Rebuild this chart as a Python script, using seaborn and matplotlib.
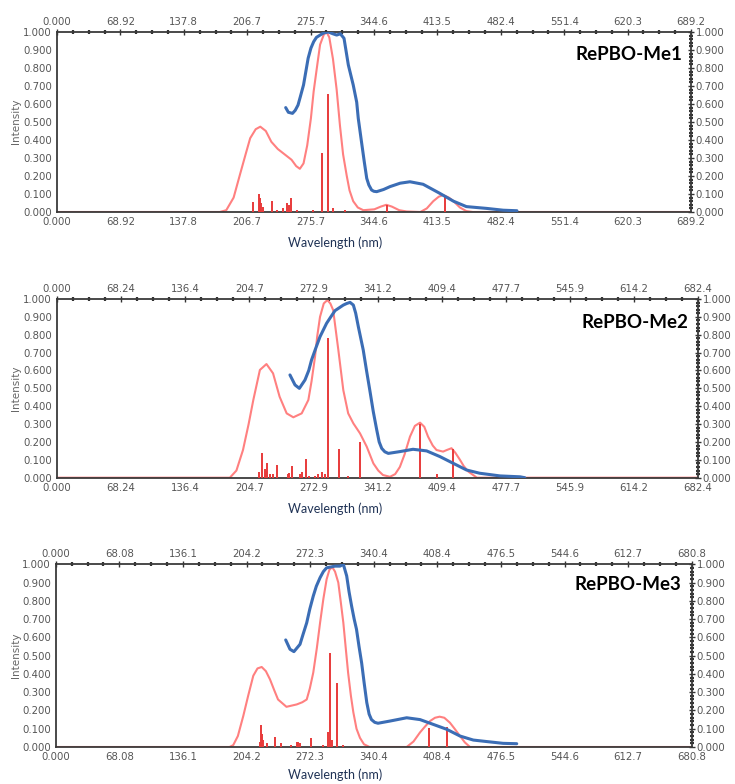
import numpy as np
import pandas as pd
import matplotlib
matplotlib.use("Agg")
import matplotlib.pyplot as plt
import seaborn as sns
from matplotlib.ticker import AutoMinorLocator

# ---------------- data ----------------
panel_names = ["RePBO-Me1", "RePBO-Me2", "RePBO-Me3"]
x_max = [689.2, 682.4, 680.8]

x_tick_labels_1 = ["0.000", "68.92", "137.8", "206.7", "275.7", "344.6", "413.5", "482.4", "551.4", "620.3", "689.2"]
x_tick_labels_2 = ["0.000", "68.24", "136.4", "204.7", "272.9", "341.2", "409.4", "477.7", "545.9", "614.2", "682.4"]
x_tick_labels_3 = ["0.000", "68.08", "136.1", "204.2", "272.3", "340.4", "408.4", "476.5", "544.6", "612.7", "680.8"]
y_tick_values = [0.0, 0.1, 0.2, 0.3, 0.4, 0.5, 0.6, 0.7, 0.8, 0.9, 1.0]
y_tick_labels = ["0.000", "0.100", "0.200", "0.300", "0.400", "0.500", "0.600", "0.700", "0.800", "0.900", "1.000"]

# RePBO-Me1
me1_calc_wl = [0, 177, 184, 192, 199, 205, 210, 216, 221, 227, 233, 240, 246, 255, 260, 264, 268, 272, 276, 279, 283, 286, 290,
               293, 296, 300, 304, 307.6, 311, 315, 318, 322, 327, 333, 345, 352, 358, 364, 372, 380, 395, 402, 409, 415,
               420, 426, 431, 438, 445, 452, 689.2]
me1_calc_int = [0, 0, 0.01, 0.08, 0.21, 0.32, 0.41, 0.46, 0.474, 0.45, 0.39, 0.35, 0.326, 0.29, 0.255, 0.24, 0.27, 0.37, 0.52, 0.67,
                0.82, 0.93, 0.985, 1.0, 0.97, 0.85, 0.68, 0.48, 0.32, 0.2, 0.12, 0.06, 0.025, 0.01, 0.015, 0.03, 0.04, 0.03,
                0.01, 0.003, 0.0, 0.02, 0.06, 0.085, 0.094, 0.08, 0.06, 0.025, 0.005, 0.0, 0]
me1_stick_wl = [213, 219.6, 220.7, 222, 223.5, 233.4, 239, 246, 249.7, 252, 254, 260.5, 278.7, 288, 294.3, 300, 313, 358.4, 421.8]
me1_stick_f = [0.057, 0.10, 0.08, 0.05, 0.03, 0.06, 0.01, 0.02, 0.05, 0.04, 0.08, 0.01, 0.01, 0.33, 0.655, 0.02, 0.01, 0.04, 0.095]
me1_exp_wl = [248.6, 251.5, 256, 259, 262, 264.5, 268, 270.5, 273, 276, 279, 282, 286, 290, 295, 300, 304, 308, 312, 316.7, 322,
              325.8, 327.5, 331, 334, 336.7, 339, 342, 344.5, 347.5, 355, 362, 373, 383.7, 398, 416, 431, 445, 467, 485, 500]
me1_exp_int = [0.58, 0.554, 0.548, 0.565, 0.594, 0.64, 0.706, 0.78, 0.854, 0.91, 0.946, 0.97, 0.983, 0.995, 1.0, 0.99, 0.983, 0.99,
               0.965, 0.817, 0.706, 0.61, 0.52, 0.39, 0.28, 0.187, 0.15, 0.122, 0.115, 0.113, 0.125, 0.141, 0.16, 0.168,
               0.154, 0.104, 0.06, 0.03, 0.02, 0.01, 0.007]

# RePBO-Me2
me2_calc_wl = [0, 184, 191, 198, 204, 209, 216, 223, 230, 237, 244.5, 251.6, 260.5, 267.6, 271, 274.7, 277, 280, 284, 287.8, 291,
               294, 299.5, 304.8, 310, 315.5, 322.6, 329.7, 336.8, 342, 347, 354.5, 360, 365, 370, 375.8, 381, 386.5, 391,
               395, 400, 404, 411, 415, 420, 424, 429, 433, 438, 447, 682.4]
me2_calc_int = [0, 0, 0.04, 0.155, 0.3, 0.435, 0.603, 0.636, 0.584, 0.453, 0.36, 0.338, 0.36, 0.435, 0.54, 0.677, 0.79, 0.9, 0.975,
                0.994, 0.975, 0.938, 0.715, 0.49, 0.36, 0.304, 0.248, 0.174, 0.08, 0.04, 0.015, 0.005, 0.02, 0.06, 0.13,
                0.23, 0.29, 0.308, 0.285, 0.23, 0.18, 0.155, 0.146, 0.155, 0.165, 0.14, 0.1, 0.065, 0.034, 0.0, 0]
me2_stick_wl = [215, 218.6, 221, 222.5, 224, 226.6, 230, 234, 245.7, 247, 250.5, 258.5, 261, 265, 268.5, 274.6, 277.4, 281.6, 285,
                288.2, 299.8, 309.4, 322.6, 386.5, 405, 422]
me2_stick_f = [0.03, 0.136, 0.05, 0.04, 0.084, 0.02, 0.02, 0.07, 0.02, 0.025, 0.065, 0.02, 0.03, 0.106, 0.01, 0.01, 0.02, 0.03, 0.02,
               0.784, 0.16, 0.01, 0.2, 0.3, 0.02, 0.159]
me2_exp_wl = [248, 253.4, 258, 264, 268, 271, 275.5, 280, 287, 291.5, 296, 304.8, 308.5, 312, 315.5, 318, 320.8, 323.4, 326,
              329.5, 333, 336.7, 340.4, 343, 345.7, 349, 352.7, 365, 379, 393.5, 407.7, 422, 436, 450, 471.6, 493, 498]
me2_exp_int = [0.575, 0.519, 0.5, 0.547, 0.6, 0.659, 0.725, 0.789, 0.864, 0.9, 0.935, 0.966, 0.975, 0.981, 0.966, 0.92, 0.845,
               0.78, 0.715, 0.6, 0.49, 0.37, 0.267, 0.2, 0.164, 0.145, 0.136, 0.146, 0.159, 0.15, 0.118, 0.08, 0.043, 0.025,
               0.01, 0.005, 0.0]

# RePBO-Me3
me3_calc_wl = [0, 186, 190, 195, 200.8, 206, 211.5, 216, 220.5, 225, 229.4, 234, 238, 247, 258, 264, 268.7, 272, 275.7, 279.5,
               283, 286.5, 290, 293, 296, 299, 302.5, 305, 307.9, 310.5, 313, 316, 318.6, 322, 325.7, 330, 336, 375.7, 383,
               390, 395, 400.7, 406, 411, 416, 422, 427, 432.8, 438, 443.5, 680.8]
me3_calc_int = [0, 0, 0.01, 0.06, 0.17, 0.28, 0.39, 0.43, 0.438, 0.415, 0.37, 0.31, 0.26, 0.22, 0.233, 0.245, 0.26, 0.32, 0.407,
                0.54, 0.68, 0.81, 0.918, 0.97, 0.985, 0.96, 0.9, 0.8, 0.68, 0.54, 0.407, 0.28, 0.19, 0.1, 0.05, 0.015, 0.0,
                0.0, 0.03, 0.08, 0.11, 0.142, 0.16, 0.166, 0.16, 0.133, 0.1, 0.06, 0.025, 0.0, 0]
me3_stick_wl = [218.7, 220, 221, 222, 226, 234.7, 241, 252, 258, 259.5, 261, 273, 286, 291.8, 293.6, 296, 301.1, 307.9, 399.6, 419.2]
me3_stick_f = [0.03, 0.119, 0.07, 0.04, 0.02, 0.053, 0.02, 0.01, 0.03, 0.03, 0.02, 0.05, 0.01, 0.08, 0.516, 0.04, 0.352, 0.01, 0.102, 0.111]
me3_exp_wl = [246.2, 250.8, 255, 261.5, 265, 268.7, 272, 275.7, 279, 283, 286.5, 290, 299, 304.3, 307.9, 311.5, 314, 316.8, 319.5,
              322, 324.7, 327.5, 330.2, 333, 335.5, 338, 341.5, 345, 357.8, 375.7, 390, 404, 418.5, 432.8, 447, 461, 479,
              493.5]
me3_exp_int = [0.586, 0.535, 0.522, 0.562, 0.62, 0.68, 0.755, 0.826, 0.88, 0.927, 0.96, 0.981, 0.99, 0.99, 1.0, 0.936, 0.85,
               0.77, 0.7, 0.644, 0.55, 0.46, 0.35, 0.243, 0.18, 0.15, 0.135, 0.13, 0.142, 0.16, 0.15, 0.124, 0.097, 0.06,
               0.038, 0.03, 0.02, 0.018]

calc_wl = [me1_calc_wl, me2_calc_wl, me3_calc_wl]
calc_int = [me1_calc_int, me2_calc_int, me3_calc_int]
stick_wl = [me1_stick_wl, me2_stick_wl, me3_stick_wl]
stick_f = [me1_stick_f, me2_stick_f, me3_stick_f]
exp_wl = [me1_exp_wl, me2_exp_wl, me3_exp_wl]
exp_int = [me1_exp_int, me2_exp_int, me3_exp_int]
x_tick_labels = [x_tick_labels_1, x_tick_labels_2, x_tick_labels_3]

# ---------------- figure ----------------
sns.set_style("white")
plt.rcParams['font.family'] = ['DejaVu Sans']

W, H = 735, 784
fig = plt.figure(figsize=(W / 100, H / 100), dpi=100)

# axes boxes in pixels: left, top, right, bottom
boxes = [(57, 32, 691, 212), (57, 299, 698, 477.7), (55.7, 564.3, 691.7, 747)]
xlabel_y = [243, 509, 775]
ylabel_y = [121, 388, 655]
title_pos = [(682, 55), (688, 322), (681, 584)]

tick_col = "#555555"
for i in range(3):
    l, t, r, b = boxes[i]
    ax = fig.add_axes([l / W, 1 - b / H, (r - l) / W, (b - t) / H])
    df_calc = pd.DataFrame({"wl": calc_wl[i], "I": calc_int[i]})
    df_exp = pd.DataFrame({"wl": exp_wl[i], "I": exp_int[i]})
    sns.lineplot(data=df_calc, x="wl", y="I", ax=ax, color="#ff8080", linewidth=1.5, estimator=None, zorder=2)
    ax.vlines(stick_wl[i], 0, stick_f[i], color="#e83a3a", linewidth=1.4, zorder=3)
    sns.lineplot(data=df_exp, x="wl", y="I", ax=ax, color="#3b6db5", linewidth=2.2, estimator=None, zorder=4)

    ax.set_xlim(0, x_max[i])
    ax.set_ylim(0, 1.0)
    ax.set_xticks(np.linspace(0, x_max[i], 11))
    ax.set_xticklabels(x_tick_labels[i])
    ax.set_yticks(y_tick_values)
    ax.set_yticklabels(y_tick_labels)
    ax.xaxis.set_minor_locator(AutoMinorLocator(4))
    ax.yaxis.set_minor_locator(AutoMinorLocator(5))
    ax.tick_params(which="major", direction="inout", length=5, width=1.0, color="#333333",
                   labelsize=7.3, labelcolor=tick_col, pad=1,
                   top=True, right=True, labeltop=True, labelright=True)
    ax.tick_params(which="minor", direction="inout", length=2.5, width=1.6, color="#333333",
                   top=True, right=True)
    for s in ax.spines.values():
        s.set_color("#3a3a3a")
        s.set_linewidth(1.3)
    ax.set_xlabel("")
    ax.set_ylabel("")

    tx, ty = title_pos[i]
    fig.text(tx / W, 1 - ty / H, panel_names[i], ha="right", va="center",
             fontsize=13.5, fontweight="bold", family=["Lato", "DejaVu Sans"], color="black")
    fig.text(335 / W, 1 - xlabel_y[i] / H, "Wavelength (nm)", ha="center", va="center",
             fontsize=9, family=["Lato", "DejaVu Sans"], color="#1f3255")
    fig.text(16 / W, 1 - ylabel_y[i] / H, "Intensity", ha="center", va="center", rotation=90,
             fontsize=7.5, color="#666666")

fig.savefig("out.png", dpi=100)
